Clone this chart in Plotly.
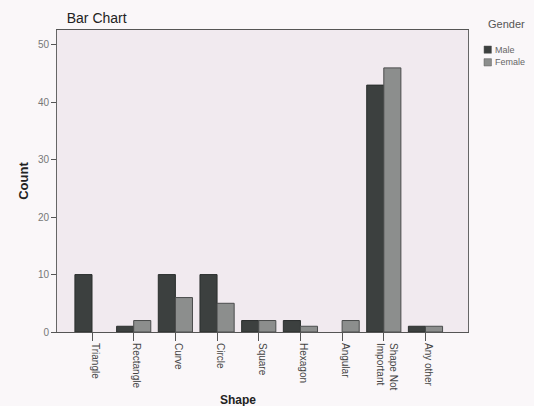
import plotly.graph_objects as go

shapes = ["Triangle", "Rectangle", "Curve", "Circle", "Square", "Hexagon",
          "Angular", "Shape Not<br>Important", "Any other"]
male = [10, 1, 10, 10, 2, 2, 0, 43, 1]
female = [0, 2, 6, 5, 2, 1, 2, 46, 1]

male_color = "#3c403f"
female_color = "#8c8e8d"

x_idx = list(range(len(shapes)))


def outline_widths(values):
    # no outline for empty bars so nothing is drawn at zero
    return [0 if v == 0 else 1 for v in values]


fig = go.Figure()
fig.add_trace(go.Bar(
    x=x_idx, y=male, name="Male", showlegend=False,
    marker=dict(color=male_color,
                line=dict(color="#2a2e2d", width=outline_widths(male))),
))
fig.add_trace(go.Bar(
    x=x_idx, y=female, name="Female", showlegend=False,
    marker=dict(color=female_color,
                line=dict(color="#4a4c4c", width=outline_widths(female))),
))

# legend: title, small square swatches and labels beside the plot
legend_entries = [("Male", male_color), ("Female", female_color)]
annotations = [dict(
    text="Gender", xref="paper", yref="paper", x=1.045, y=1.02,
    xanchor="left", yanchor="middle", showarrow=False,
    font=dict(size=11, color="#555555"),
)]
legend_shapes = []
for i, (name, col) in enumerate(legend_entries):
    yc = 0.935 - i * 0.042
    legend_shapes.append(dict(
        type="rect", xref="paper", yref="paper",
        x0=1.039, x1=1.057, y0=yc - 0.012, y1=yc + 0.012,
        fillcolor=col, line=dict(color="#555555", width=0.5),
    ))
    annotations.append(dict(
        text=name, xref="paper", yref="paper", x=1.062, y=yc,
        xanchor="left", yanchor="middle", showarrow=False,
        font=dict(size=9, color="#666666"),
    ))
annotations.append(dict(
    text="<b>Shape</b>", xref="paper", yref="paper", x=0.44, y=-0.225,
    xanchor="center", yanchor="middle", showarrow=False,
    font=dict(size=12, color="#222222"),
))

fig.update_layout(
    width=534, height=406,
    barmode="group", bargap=0.18, bargroupgap=0.0,
    paper_bgcolor="#faf7f9", plot_bgcolor="#f1eaef",
    margin=dict(l=57, r=66, t=30, b=74),
    font=dict(family="Liberation Sans, Arial, sans-serif", color="#444444"),
    title=dict(text="Bar Chart", x=0.125, xanchor="left", y=0.955, yanchor="middle",
               font=dict(size=14, color="#222222")),
    annotations=annotations,
    shapes=legend_shapes,
    xaxis=dict(
        tickmode="array", tickvals=x_idx, ticktext=shapes,
        range=[-0.84, 9.02], tickangle=90, ticklabelshift=3,
        ticks="outside", ticklen=8, tickcolor="#555555",
        tickfont=dict(size=10, color="#444444"),
        showline=True, linecolor="#555555", linewidth=1, mirror=True,
        showgrid=False, zeroline=False,
    ),
    yaxis=dict(
        range=[0, 52.6], tickvals=[0, 10, 20, 30, 40, 50],
        ticks="outside", ticklen=5, tickcolor="#555555",
        tickfont=dict(size=10, color="#777777"),
        showline=True, linecolor="#666666", linewidth=1, mirror=True,
        showgrid=False, zeroline=False,
        title=dict(text="<b>Count</b>", font=dict(size=13, color="#222222"), standoff=6),
    ),
)

fig.write_html("out.html")
